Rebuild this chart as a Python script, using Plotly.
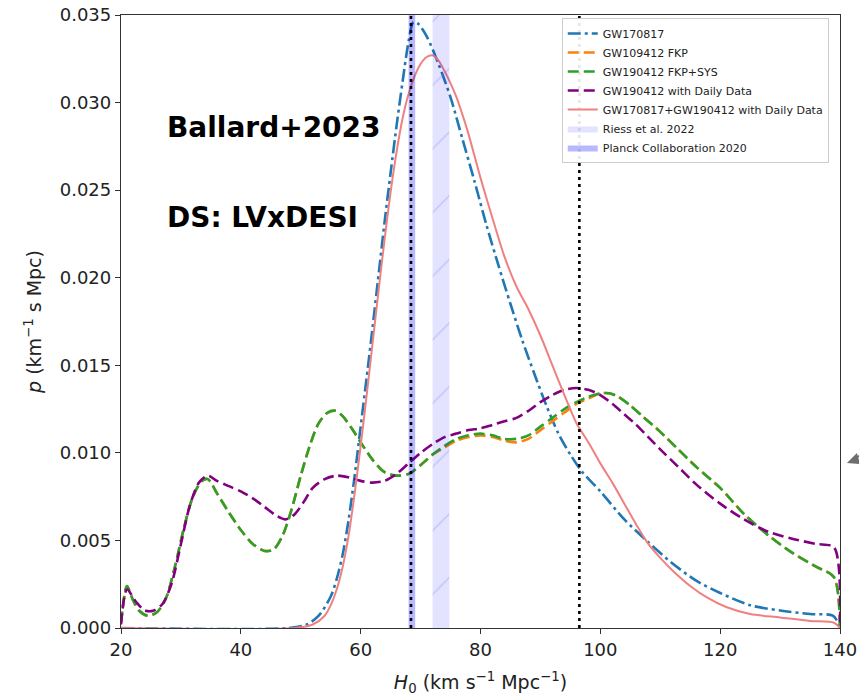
import plotly.graph_objects as go

# ---------------- data ----------------
gw170817_x = [20, 48, 51, 53, 55, 56, 57, 58, 59, 60, 61, 62, 63, 64, 65, 66, 67, 68, 68.8, 69.6,
              71, 73, 75, 77, 79, 81, 83, 85, 87, 89, 91, 93, 95, 97, 100, 104, 108, 112, 116,
              120, 125, 130, 135, 138.8, 140]
gw170817_y = [0, 0, 0.0002, 0.0007, 0.0018, 0.0028, 0.0042, 0.0062, 0.0087, 0.0115, 0.0143, 0.0172,
              0.0202, 0.0232, 0.0260, 0.0287, 0.0312, 0.0335, 0.0346, 0.0345, 0.0338, 0.0322, 0.0303,
              0.0279, 0.0255, 0.0230, 0.0207, 0.0185, 0.0164, 0.0145, 0.0127, 0.0111, 0.0099, 0.0089,
              0.0078, 0.0062, 0.0049, 0.0037, 0.0027, 0.0020, 0.0013, 0.0010, 0.0008, 0.0007, 0.0001]

fkp_x = [20, 21, 22, 23, 24.5, 26, 27.5, 29, 30.5, 32, 33.5, 34.5, 36, 38, 40, 42, 44, 45.5, 47, 48.5,
         50, 51.5, 53, 54.5, 55.8, 57, 58.5, 60, 62, 64, 66, 68, 70, 72, 74, 76, 78, 80, 82, 84, 86,
         88, 90, 92, 94, 96, 98, 100, 101.5, 103, 105, 107, 110, 113, 116, 120, 124, 128, 132, 136,
         139, 140]
fkp_y = [0.0003, 0.0024, 0.0016, 0.0010, 0.0007, 0.0009, 0.0017, 0.0035, 0.0057, 0.0075, 0.0084,
         0.0085, 0.0077, 0.0066, 0.0056, 0.0048, 0.0044, 0.0045, 0.0053, 0.0068, 0.0087, 0.0104,
         0.0117, 0.0123, 0.0124, 0.0121, 0.0114, 0.0106, 0.0096, 0.0089, 0.0087, 0.0088, 0.0093,
         0.0099, 0.0103, 0.0107, 0.0109, 0.0110, 0.0109, 0.0107, 0.0106, 0.0108, 0.0113, 0.0118,
         0.0123, 0.0128, 0.0131, 0.0134, 0.0134, 0.0132, 0.0127, 0.0121, 0.0112, 0.0102, 0.0092,
         0.0080, 0.0065, 0.0053, 0.0043, 0.0035, 0.0029, 0.0]

fkp_sys_x = fkp_x
fkp_sys_y = [0.0003, 0.0024, 0.0016, 0.0010, 0.0007, 0.0009, 0.0017, 0.0035, 0.0057, 0.0075, 0.0084,
             0.0085, 0.0077, 0.0066, 0.0056, 0.0048, 0.0044, 0.0045, 0.0053, 0.0068, 0.0087, 0.0104,
             0.0117, 0.0123, 0.0124, 0.0121, 0.0114, 0.0106, 0.0096, 0.0089, 0.0087, 0.0088, 0.0093,
             0.0099, 0.0104, 0.0108, 0.0110, 0.0111, 0.0110, 0.0108, 0.0108, 0.0110, 0.0115, 0.0120,
             0.0125, 0.0129, 0.0132, 0.0134, 0.0134, 0.0132, 0.0127, 0.0121, 0.0112, 0.0102, 0.0092,
             0.0080, 0.0065, 0.0053, 0.0043, 0.0035, 0.0029, 0.0]

daily_x = [20, 21, 22.5, 24, 25.5, 27, 28.5, 30, 31.5, 33, 34.5, 36, 38, 40, 42, 44, 46, 47.5, 49, 50.5,
           52, 54, 56, 58, 60, 62, 64, 66, 68, 70, 72, 74, 76, 78, 80, 82, 84, 86, 88, 90, 92, 94, 96,
           98, 100, 102, 104, 106, 108, 110, 113, 116, 120, 124, 128, 132, 136, 139, 140]
daily_y = [0.0002, 0.0022, 0.0015, 0.0010, 0.0010, 0.0014, 0.0026, 0.0048, 0.0070, 0.0083, 0.0087,
           0.0084, 0.0081, 0.0078, 0.0074, 0.0069, 0.0064, 0.0062, 0.0065, 0.0072, 0.0080, 0.0085,
           0.0087, 0.0086, 0.0084, 0.0083, 0.0084, 0.0088, 0.0094, 0.0100, 0.0105, 0.0109, 0.0111,
           0.0113, 0.0114, 0.0116, 0.0118, 0.0120, 0.0124, 0.0129, 0.0133, 0.0136, 0.0137, 0.0136,
           0.0133, 0.0128, 0.0122, 0.0116, 0.0109, 0.0102, 0.0092, 0.0082, 0.0071, 0.0062, 0.0055,
           0.0051, 0.0048, 0.0046, 0.0]

combined_x = [20, 49, 52, 54, 55, 56, 57, 58, 59, 60, 61, 62, 63, 64, 65, 66, 67, 68, 69, 70, 71, 72,
              73, 74, 75, 76, 77, 78, 80, 82, 84, 86, 88, 90, 92, 94, 96, 98, 100, 102, 104, 106, 108,
              110, 112, 115, 118, 121, 125, 130, 135, 139, 140]
combined_y = [0, 0, 0.0002, 0.0007, 0.0013, 0.0022, 0.0035, 0.0053, 0.0077, 0.0104, 0.0133, 0.0163,
              0.0193, 0.0222, 0.0249, 0.0272, 0.0291, 0.0305, 0.0315, 0.0322, 0.0326, 0.0327, 0.0324,
              0.0318, 0.0311, 0.0303, 0.0293, 0.0282, 0.0257, 0.0234, 0.0212, 0.0195, 0.0182, 0.0167,
              0.0150, 0.0133, 0.0117, 0.0106, 0.0094, 0.0083, 0.0071, 0.0059, 0.0048, 0.0040, 0.0033,
              0.0024, 0.0017, 0.0012, 0.0008, 0.0006, 0.0004, 0.0003, 0.0]

riess_band = [72.0, 74.8]
planck_band = [68.0, 69.1]
dotted_lines = [68.4, 96.5]

x_ticks = [20, 40, 60, 80, 100, 120, 140]
y_ticks = [0.000, 0.005, 0.010, 0.015, 0.020, 0.025, 0.030, 0.035]
y_max = 0.035

# ---------------- figure ----------------
fig = go.Figure()

fig.add_trace(go.Scatter(x=gw170817_x, y=gw170817_y, name="GW170817", mode="lines",
                         line=dict(color="#1f77b4", width=2.6, dash="13px,4px,3px,4px",
                                   shape="spline", smoothing=0.8)))
fig.add_trace(go.Scatter(x=fkp_x, y=fkp_y, name="GW109412 FKP", mode="lines",
                         line=dict(color="#ff7f0e", width=2.6, dash="11px,5px",
                                   shape="spline", smoothing=0.8)))
fig.add_trace(go.Scatter(x=fkp_sys_x, y=fkp_sys_y, name="GW190412 FKP+SYS", mode="lines",
                         line=dict(color="#2ca02c", width=2.6, dash="11px,5px",
                                   shape="spline", smoothing=0.8)))
fig.add_trace(go.Scatter(x=daily_x, y=daily_y, name="GW190412 with Daily Data", mode="lines",
                         line=dict(color="#800080", width=2.6, dash="11px,5px",
                                   shape="spline", smoothing=0.8)))
fig.add_trace(go.Scatter(x=combined_x, y=combined_y, name="GW170817+GW190412 with Daily Data",
                         mode="lines",
                         line=dict(color="#f08080", width=2.0, shape="spline", smoothing=0.8)))

# bands
fig.add_trace(go.Scatter(x=[riess_band[0], riess_band[1], riess_band[1], riess_band[0], riess_band[0]],
                         y=[0, 0, y_max, y_max, 0], name="Riess et al. 2022", mode="lines",
                         fill="toself", fillcolor="rgba(0,0,255,0.11)",
                         fillpattern=dict(shape="/", size=45, solidity=0.03,
                                          fgcolor="rgba(130,130,230,0.35)",
                                          bgcolor="rgba(0,0,255,0.11)"),
                         line=dict(width=0, color="rgba(0,0,255,0.11)"), hoverinfo="skip"))
fig.add_trace(go.Scatter(x=[planck_band[0], planck_band[1], planck_band[1], planck_band[0], planck_band[0]],
                         y=[0, 0, y_max, y_max, 0], name="Planck Collaboration 2020", mode="lines",
                         fill="toself", fillcolor="rgba(0,0,255,0.28)",
                         line=dict(width=0, color="rgba(0,0,255,0.28)"), hoverinfo="skip"))

for v in dotted_lines:
    fig.add_trace(go.Scatter(x=[v, v], y=[0, y_max], mode="lines", showlegend=False,
                             line=dict(color="black", width=2.6, dash="3px,4px"), hoverinfo="skip"))

axis_common = dict(showline=True, linecolor="#333333", linewidth=1.3, mirror=True,
                   ticks="outside", ticklen=5, tickwidth=1.2, tickcolor="#333333",
                   showgrid=False, zeroline=False, automargin=False,
                   tickfont=dict(family="DejaVu Sans", size=18, color="#222222"))

fig.update_xaxes(range=[20, 140], tickvals=x_ticks, ticktext=[str(t) for t in x_ticks],
                 title=dict(text="<i>H</i><sub>0</sub> (km s<sup>−1</sup> Mpc<sup>−1</sup>)",
                            font=dict(family="DejaVu Sans", size=19, color="#222222"), standoff=16),
                 **axis_common)
fig.update_yaxes(range=[0, y_max], tickvals=y_ticks, ticktext=[f"{t:.3f}" for t in y_ticks],
                 title=dict(text="<i>p</i> (km<sup>−1</sup> s Mpc)",
                            font=dict(family="DejaVu Sans", size=19, color="#222222"), standoff=13),
                 **axis_common)

fig.add_annotation(x=0.061, y=0.817, xref="paper", yref="paper", xanchor="left", yanchor="middle",
                   text="<b>Ballard+2023</b>", showarrow=False,
                   font=dict(family="DejaVu Sans", size=28, color="black"))
fig.add_annotation(x=0.061, y=0.670, xref="paper", yref="paper", xanchor="left", yanchor="middle",
                   text="<b>DS: LVxDESI</b>", showarrow=False,
                   font=dict(family="DejaVu Sans", size=28, color="black"))

# small gray arrowhead at the right edge (paper coords)
fig.add_shape(type="path", xref="paper", yref="paper",
              path="M 1.0097 0.2692 L 1.0236 0.2855 L 1.0278 0.2676 Z",
              fillcolor="#6e6e6e", line=dict(width=0))
fig.add_shape(type="line", xref="paper", yref="paper", x0=1.02, y0=0.276, x1=1.04, y1=0.29,
              line=dict(color="#6e6e6e", width=2))

fig.update_layout(
    template="none",
    width=859, height=700,
    margin=dict(l=121, r=19, t=15, b=72, autoexpand=False),
    paper_bgcolor="white", plot_bgcolor="white",
    legend=dict(x=0.613, y=0.995, xanchor="left", yanchor="top",
                bgcolor="rgba(255,255,255,0.9)", bordercolor="#cccccc", borderwidth=1,
                font=dict(family="DejaVu Sans", size=11, color="#222222"),
                itemwidth=30, tracegroupgap=0),
    showlegend=True,
)

fig.write_html("out.html")
